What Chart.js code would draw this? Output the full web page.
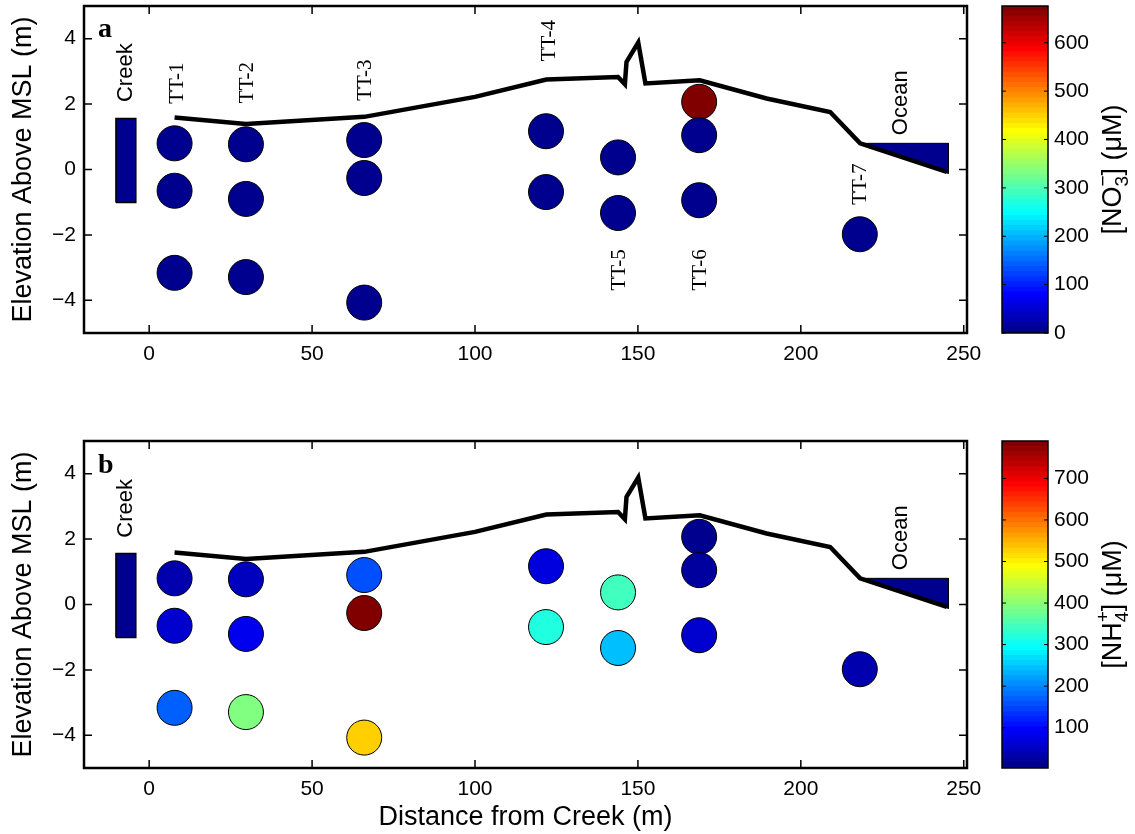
<!DOCTYPE html>
<html>
<head>
<meta charset="utf-8">
<script src="https://cdn.jsdelivr.net/npm/chart.js@4.4.0/dist/chart.umd.min.js"></script>
<style>
body { margin: 0; background: #fff; }
canvas { position: absolute; }
</style>
</head>
<body>
<canvas id="panelA" width="990" height="380" style="left:0;top:0"></canvas>
<canvas id="barA" width="145" height="380" style="left:990px;top:0"></canvas>
<canvas id="panelB" width="990" height="399" style="left:0;top:435px"></canvas>
<canvas id="barB" width="145" height="399" style="left:990px;top:435px"></canvas>
<script>
// well positions (distance from creek, elevation)
const wellX = [7.8, 7.8, 7.8, 29.7, 29.7, 29.7, 66, 66, 66, 121.8, 121.8, 143.9, 143.9, 168.8, 168.8, 168.8, 218.1];
const wellY = [0.80, -0.65, -3.16, 0.77, -0.90, -3.29, 0.90, -0.26, -4.07, 1.17, -0.69, 0.37, -1.33, 2.07, 1.05, -0.94, -1.98];
const nitrate = [4, 2, 6, 3, 5, 1, 7, 2, 4, 3, 5, 2, 6, 676, 8, 3, 1];
const ammonium = [34, 58, 169, 40, 83, 390, 157, 790, 526, 71, 317, 341, 243, 3, 21, 58, 34];

// beach profile
const profileX = [7.8, 29.7, 66, 100, 121.9, 143.9, 146, 146.5, 150.1, 152.3, 169, 189.5, 209, 218.2, 244.8];
const profileY = [1.59, 1.39, 1.61, 2.22, 2.75, 2.83, 2.61, 3.29, 3.88, 2.63, 2.73, 2.17, 1.76, 0.80, -0.07];
const creekX = [-10.2, -4.1, -4.1, -10.2, -10.2];
const creekY = [-1.01, -1.01, 1.56, 1.56, -1.01];
const oceanX = [218.5, 245.3, 245.3, 218.5];
const oceanY = [0.80, 0.80, -0.12, 0.80];

const xTicks = [0, 50, 100, 150, 200, 250];
const yTicks = [-4, -2, 0, 2, 4];
const no3Ticks = [0, 100, 200, 300, 400, 500, 600];
const nh4Ticks = [100, 200, 300, 400, 500, 600, 700];
const no3Range = [0, 676];
const nh4Range = [3, 790];

const SANS = '"Liberation Sans", Arial, sans-serif';
const SERIF = '"Liberation Serif", "Times New Roman", serif';
const NAVY = 'rgb(0,0,143)';
Chart.defaults.color = '#000';

// matlab jet(64)
function jetRow(k) {
	const u = i => (i < 1 || i > 47) ? 0 : i <= 16 ? i / 16 : i <= 31 ? 1 : (48 - i) / 16;
	return `rgb(${Math.round(255 * u(k - 24))},${Math.round(255 * u(k - 8))},${Math.round(255 * u(k + 8))})`;
}
function jetColor(v, lo, hi) {
	let k = Math.floor((v - lo) / (hi - lo) * 64) + 1;
	return jetRow(Math.max(1, Math.min(64, k)));
}
const pts = (xs, ys) => xs.map((x, i) => ({x: x, y: ys[i]}));
const minus = v => v < 0 ? "\u2212" + Math.abs(v) : String(v);
const noPad = s => { s.paddingTop = 0; s.paddingBottom = 0; s.paddingLeft = 0; s.paddingRight = 0; };

const boxTicks = {
	id: "boxTicks",
	afterDraw(chart, args, opts) {
		const {ctx, chartArea: a} = chart;
		const len = opts.len;
		ctx.save();
		ctx.strokeStyle = "#000";
		ctx.lineWidth = opts.tick;
		ctx.beginPath();
		for (const id in chart.scales) {
			const s = chart.scales[id];
			if (!s.options.display) continue;
			for (const t of s.ticks) {
				const p = s.getPixelForValue(t.value);
				if (s.isHorizontal()) {
					ctx.moveTo(p, a.bottom); ctx.lineTo(p, a.bottom - len);
					ctx.moveTo(p, a.top); ctx.lineTo(p, a.top + len);
				} else {
					ctx.moveTo(a.left, p); ctx.lineTo(a.left + len, p);
					ctx.moveTo(a.right, p); ctx.lineTo(a.right - len, p);
				}
			}
		}
		ctx.stroke();
		ctx.lineWidth = opts.frame;
		ctx.strokeRect(a.left, a.top, a.right - a.left, a.bottom - a.top);
		ctx.restore();
	}
};

const notes = {
	id: "notes",
	afterDatasetsDraw(chart, args, opts) {
		const {ctx, scales: {x, y}} = chart;
		ctx.save();
		ctx.fillStyle = "#000";
		for (const n of opts.items) {
			ctx.font = n.font;
			ctx.save();
			ctx.translate(x.getPixelForValue(n.x), y.getPixelForValue(n.y));
			if (n.rot) {
				ctx.rotate(-Math.PI / 2);
				ctx.textAlign = "center";
				ctx.textBaseline = "middle";
			} else {
				ctx.textAlign = "left";
				ctx.textBaseline = "alphabetic";
			}
			ctx.fillText(n.t, 0, 0);
			ctx.restore();
		}
		ctx.restore();
	}
};

const barTitle = {
	id: "barTitle",
	afterDraw(chart, args, opts) {
		const {ctx, chartArea: a} = chart;
		const big = "27px " + SANS, small = "19px " + SANS;
		ctx.save();
		ctx.font = big;
		const w1 = ctx.measureText(opts.head).width;
		const w3 = ctx.measureText("] (\u03bcM)").width;
		ctx.font = small;
		const w2 = Math.max(ctx.measureText(opts.sub).width, ctx.measureText(opts.sup).width);
		const total = w1 + w2 + w3;
		ctx.translate(opts.cx, (a.top + a.bottom) / 2);
		ctx.rotate(-Math.PI / 2);
		ctx.fillStyle = "#000";
		ctx.textBaseline = "alphabetic";
		ctx.textAlign = "left";
		const base = 9.5;
		let x0 = -total / 2;
		ctx.font = big;
		ctx.fillText(opts.head, x0, base);
		ctx.font = small;
		ctx.fillText(opts.sub, x0 + w1, base + 7);
		ctx.fillText(opts.sup, x0 + w1, base - 12);
		ctx.font = big;
		ctx.fillText("] (\u03bcM)", x0 + w1 + w2, base);
		ctx.restore();
	}
};

function makePanel(id, values, range, H, bottomTitle, items) {
	return new Chart(document.getElementById(id), {
		type: "scatter",
		data: {
			datasets: [
				{data: pts(profileX, profileY), showLine: true, borderColor: "#000", borderWidth: 4.5, pointRadius: 0, order: 0},
				{data: pts(oceanX, oceanY), showLine: true, fill: "shape", backgroundColor: NAVY, borderColor: "#000", borderWidth: 1, pointRadius: 0, order: 1},
				{data: pts(creekX, creekY), showLine: true, fill: "shape", backgroundColor: NAVY, borderColor: "#000", borderWidth: 1.5, pointRadius: 0, order: 1},
				{
					data: pts(wellX, wellY),
					pointRadius: 17.5,
					pointBackgroundColor: values.map(v => jetColor(v, range[0], range[1])),
					pointBorderColor: "#000",
					pointBorderWidth: 1,
					order: 2
				}
			]
		},
		options: {
			responsive: false,
			animation: false,
			events: [],
			layout: {autoPadding: false, padding: {top: 6, right: 23, left: 0, bottom: 0}},
			plugins: {
				legend: {display: false},
				tooltip: {enabled: false},
				boxTicks: {len: 8, tick: 1.5, frame: 2.5},
				notes: {items: items}
			},
			scales: {
				x: {
					type: "linear", min: -20, max: 251,
					grid: {display: false, drawTicks: false},
					border: {display: false},
					ticks: {font: {size: 21, family: SANS}, padding: 9, maxRotation: 0, callback: minus},
					afterBuildTicks: s => { s.ticks = xTicks.map(v => ({value: v})); },
					afterFit: s => { s.height = H - 6 - 327; noPad(s); },
					title: {display: bottomTitle, text: "Distance from Creek (m)", font: {size: 27, family: SANS}, padding: {top: 0, bottom: 0}}
				},
				y: {
					type: "linear", min: -5, max: 5,
					grid: {display: false, drawTicks: false},
					border: {display: false},
					ticks: {font: {size: 21, family: SANS}, padding: 8, callback: minus},
					afterBuildTicks: s => { s.ticks = yTicks.map(v => ({value: v})); },
					afterFit: s => { s.width = 84; noPad(s); },
					title: {display: true, text: "Elevation Above MSL (m)", font: {size: 27, family: SANS}, padding: {top: 7, bottom: 0}}
				}
			}
		},
		plugins: [boxTicks, notes]
	});
}

function makeBar(id, range, ticks, H, head, sub, sup) {
	const step = (range[1] - range[0]) / 64;
	const datasets = [];
	for (let k = 1; k <= 64; k++) {
		datasets.push({
			data: [[range[0] + (k - 1) * step, range[0] + k * step + step * 0.05]],
			backgroundColor: jetRow(k),
			borderWidth: 0,
			grouped: false,
			barPercentage: 1,
			categoryPercentage: 1
		});
	}
	return new Chart(document.getElementById(id), {
		type: "bar",
		data: {labels: [""], datasets: datasets},
		options: {
			responsive: false,
			animation: false,
			events: [],
			layout: {autoPadding: false, padding: {top: 6, left: 12, right: 0, bottom: H - 6 - 327}},
			plugins: {
				legend: {display: false},
				tooltip: {enabled: false},
				boxTicks: {len: 4, tick: 1, frame: 1.5},
				barTitle: {head: head, sub: sub, sup: sup, cx: 121}
			},
			scales: {
				x: {display: false},
				y: {
					position: "right", min: range[0], max: range[1],
					grid: {display: false, drawTicks: false},
					border: {display: false},
					ticks: {font: {size: 21, family: SANS}, padding: 6},
					afterBuildTicks: s => { s.ticks = ticks.map(v => ({value: v})); },
					afterFit: s => { s.width = 87; noPad(s); }
				}
			}
		},
		plugins: [boxTicks, barTitle]
	});
}

const ttFont = "21px " + SERIF;
const lblFont = "22px " + SANS;
const notesA = [
	{t: "a", x: -15.7, y: 4.05, font: "bold 28px " + SERIF, rot: false},
	{t: "Creek", x: -7.2, y: 2.96, font: lblFont, rot: true},
	{t: "Ocean", x: 230.8, y: 2.04, font: lblFont, rot: true},
	{t: "TT-1", x: 8.6, y: 2.64, font: ttFont, rot: true},
	{t: "TT-2", x: 30.3, y: 2.66, font: ttFont, rot: true},
	{t: "TT-3", x: 66.5, y: 2.73, font: ttFont, rot: true},
	{t: "TT-4", x: 122.9, y: 3.94, font: ttFont, rot: true},
	{t: "TT-5", x: 144.4, y: -3.07, font: ttFont, rot: true},
	{t: "TT-6", x: 169.3, y: -3.07, font: ttFont, rot: true},
	{t: "TT-7", x: 218.2, y: -0.45, font: ttFont, rot: true}
];
const notesB = [
	{t: "b", x: -15.7, y: 4.03, font: "bold 28px " + SERIF, rot: false},
	{t: "Creek", x: -7.2, y: 2.94, font: lblFont, rot: true},
	{t: "Ocean", x: 230.8, y: 2.04, font: lblFont, rot: true}
];

makePanel("panelA", nitrate, no3Range, 380, false, notesA);
makePanel("panelB", ammonium, nh4Range, 399, true, notesB);
makeBar("barA", no3Range, no3Ticks, 380, "[NO", "3", "\u2212");
makeBar("barB", nh4Range, nh4Ticks, 399, "[NH", "4", "+");
</script>
</body>
</html>
